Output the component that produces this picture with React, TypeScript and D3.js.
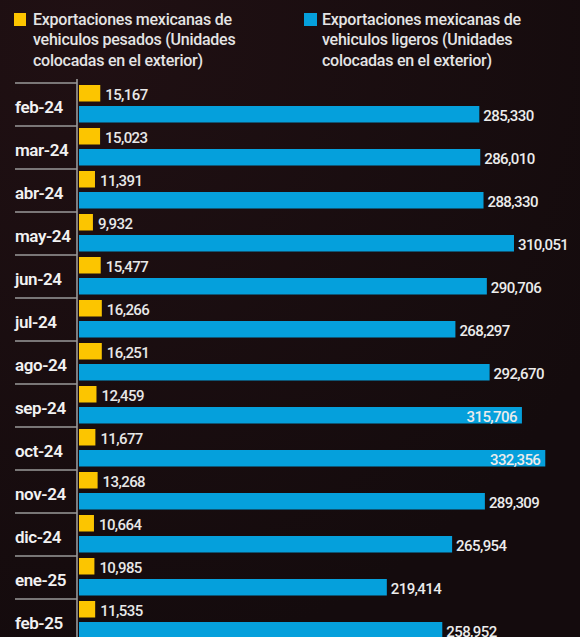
import React from "react";
import * as d3 from "d3";

const months = ["feb-24","mar-24","abr-24","may-24","jun-24","jul-24","ago-24","sep-24","oct-24","nov-24","dic-24","ene-25","feb-25"];
const heavy = [15167,15023,11391,9932,15477,16266,16251,12459,11677,13268,10664,10985,11535];
const light = [285330,286010,288330,310051,290706,268297,292670,315706,332356,289309,265954,219414,258952];
const legendHeavy = ["Exportaciones mexicanas de","vehiculos pesados (Unidades","colocadas en el exterior)"];
const legendLight = ["Exportaciones mexicanas de","vehiculos ligeros (Unidades","colocadas en el exterior)"];

const W = 580, H = 637;
const YELLOW = "#fcc500";
const BLUE = "#05a0dc";
const FONT = "Roboto, 'Noto Sans', sans-serif";

export default function App() {
  const x = d3.scaleLinear().domain([0, 340000]).range([79, 556]);
  const y = d3.scaleBand<string>().domain(months).range([83, 83 + 43 * months.length]).padding(0);
  const fmt = d3.format(",");

  return (
    <svg width={W} height={H} style={{ position: "absolute", left: 0, top: 0, display: "block" }}>
      <defs>
        <radialGradient id="bg" cx="0.15" cy="0.05" r="1">
          <stop offset="0" stopColor="#201013" />
          <stop offset="1" stopColor="#140b0d" />
        </radialGradient>
      </defs>
      <rect x={0} y={0} width={W} height={H} fill="url(#bg)" />
      {/* legend */}
      <rect x={14} y={13} width={12} height={13} fill={YELLOW} />
      {legendHeavy.map((t, i) => (
        <text key={"lh" + i} x={33} y={25 + i * 20.3} fill="#e4e4e4" fontFamily={FONT} fontWeight={500} fontSize={16} letterSpacing={-0.25}>{t}</text>
      ))}
      <rect x={304} y={13} width={13} height={13} fill={BLUE} />
      {legendLight.map((t, i) => (
        <text key={"ll" + i} x={322} y={25 + i * 20.3} fill="#e4e4e4" fontFamily={FONT} fontWeight={500} fontSize={16} letterSpacing={-0.25}>{t}</text>
      ))}
      {/* axis */}
      <line x1={77} x2={77} y1={79} y2={H} stroke="#9a9a9a" strokeWidth={1.6} />
      {months.map((m, i) => {
        const top = y(m)!;
        const yy = top + 2;
        const yb = top + 23;
        const xh = x(heavy[i]);
        const xl = x(light[i]);
        const inside = xl + 52 > 572;
        return (
          <g key={m}>
            <line x1={15} x2={77} y1={top} y2={top} stroke="#9a9a9a" strokeWidth={1.6} />
            <text x={15} y={top + 24} dy="0.35em" fill="#f2f2f2" fontFamily={FONT} fontWeight={600} fontSize={17} letterSpacing={-0.4}>{m}</text>
            <rect x={x(0)} y={yy} width={xh - x(0)} height={16.5} fill={YELLOW} />
            <text x={xh + 5} y={yy + 9.5} dy="0.35em" fill="#e8e8e8" fontFamily={FONT} fontWeight={500} fontSize={15} letterSpacing={-0.6}>{fmt(heavy[i])}</text>
            <rect x={x(0)} y={yb} width={xl - x(0)} height={16.5} fill={BLUE} />
            <text x={inside ? xl - 5 : xl + 4} y={yb + 9.5} dy="0.35em" textAnchor={inside ? "end" : "start"} fill="#ececec" fontFamily={FONT} fontWeight={500} fontSize={15} letterSpacing={-0.6}>{fmt(light[i])}</text>
          </g>
        );
      })}
    </svg>
  );
}
